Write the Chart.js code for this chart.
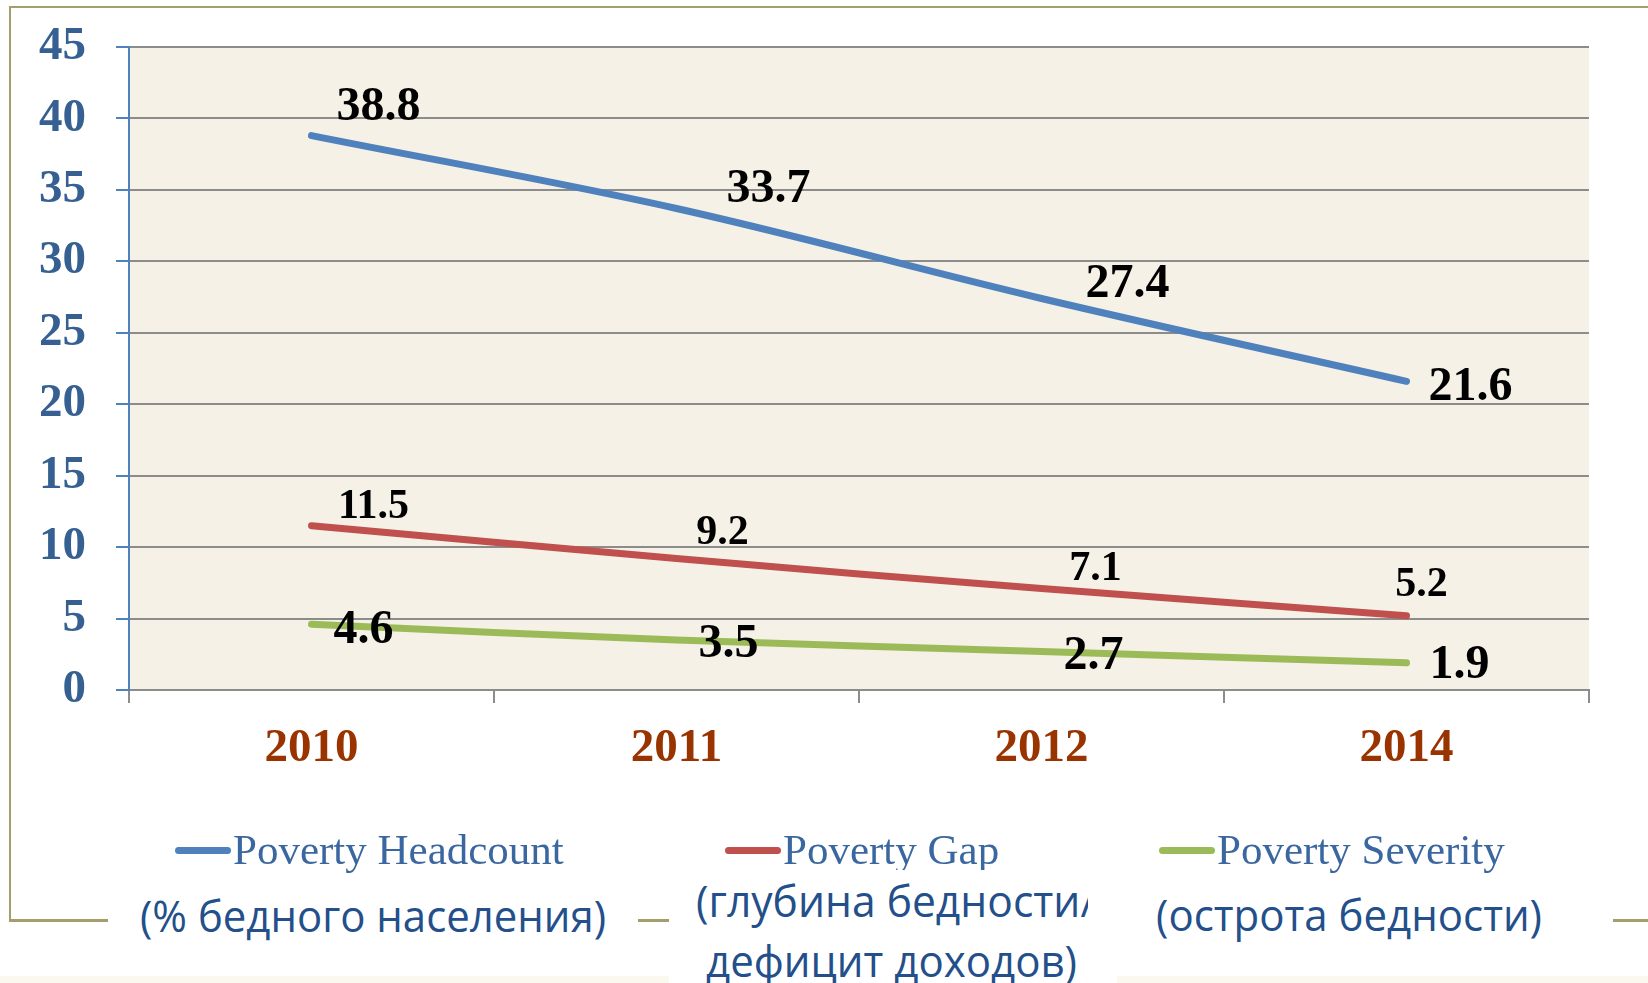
<!DOCTYPE html>
<html><head><meta charset="utf-8">
<script src="https://cdn.jsdelivr.net/npm/chart.js@4.4.1/dist/chart.umd.min.js"></script>
<style>
html,body{margin:0;padding:0;background:#fff;overflow:hidden}
#wrap{position:relative;width:1648px;height:983px;overflow:hidden}
#c{position:absolute;left:0;top:0}
.ln{position:absolute;background:#a59d6b}
.leg{position:absolute;font-family:"Liberation Serif",serif;font-size:43px;line-height:43px;color:#3b67a0;white-space:nowrap}
.mk{position:absolute;height:7px;border-radius:4px}
.note{position:absolute;background:#fff;overflow:hidden}
.nl{position:absolute;font-family:"Open Sans",sans-serif;font-size:43px;line-height:43px;color:#234f8a;white-space:nowrap;transform-origin:0 0}
</style></head>
<body><div id="wrap">
<div class="ln" style="left:9px;top:6px;width:1639px;height:2px"></div>
<div class="ln" style="left:9px;top:6px;width:2px;height:916px"></div>
<div class="ln" style="left:9px;top:919px;width:1639px;height:3px"></div>
<div style="position:absolute;left:0;top:976px;width:1648px;height:7px;background:#fbf9ef"></div>
<canvas id="c" width="1648" height="983"></canvas>
<div id="legend"></div>
<div id="notes"></div>
</div>
<script>
// ---- data ----
const categories = ['2010', '2011', '2012', '2014'];
const seriesNames = ['Poverty Headcount', 'Poverty Gap', 'Poverty Severity'];
const headcount = [38.8, 33.7, 27.4, 21.6];
const povertyGap = [11.5, 9.2, 7.1, 5.2];
const severity = [4.6, 3.5, 2.7, 1.9];
const yMin = 0, yMax = 45, yStep = 5;
const noteHeadcount = ['(% бедного населения)'];
const noteGap = ['(глубина бедности/', 'дефицит доходов)'];
const noteSeverity = ['(острота бедности)'];

// ---- styling / layout ----
const colors = ['#4f81bd', '#c0504d', '#9bbb59'];
const labelFontSizes = [48, 42, 48];
const labelOffsets = [
  [[67, -28], [92, -19], [86, -14], [64, 6]],
  [[62, -19], [46, -25], [54, -19], [15, -31]],
  [[52, 6], [52, 5], [52, 5], [53, 3]]
];
const serif = "'Liberation Serif', 'Times New Roman', serif";

const bgPlugin = {
  id: 'areaBg',
  beforeDraw(chart) {
    const a = chart.chartArea, ctx = chart.ctx;
    ctx.save(); ctx.fillStyle = '#f5f1e6';
    ctx.fillRect(a.left, a.top, a.right - a.left, a.bottom - a.top);
    ctx.restore();
  }
};
const labelPlugin = {
  id: 'valueLabels',
  afterDatasetsDraw(chart) {
    const ctx = chart.ctx;
    chart.data.datasets.forEach((ds, di) => {
      const meta = chart.getDatasetMeta(di);
      meta.data.forEach((pt, i) => {
        const off = labelOffsets[di][i];
        ctx.save();
        ctx.font = 'bold ' + labelFontSizes[di] + 'px ' + serif;
        ctx.fillStyle = '#000';
        ctx.textAlign = 'center';
        ctx.textBaseline = 'middle';
        ctx.fillText(String(ds.data[i]), pt.x + off[0], pt.y + off[1]);
        ctx.restore();
      });
    });
  }
};

const seriesValues = [headcount, povertyGap, severity];
const chart = new Chart(document.getElementById('c'), {
  type: 'line',
  data: {
    labels: categories,
    datasets: seriesNames.map((n, i) => ({
      label: n, data: seriesValues[i], borderColor: colors[i], backgroundColor: colors[i],
      borderWidth: 7, tension: 0.35, pointRadius: 0, borderCapStyle: 'round', borderJoinStyle: 'round', fill: false
    }))
  },
  options: {
    responsive: false, animation: false, devicePixelRatio: 1,
    layout: { padding: { left: 39, right: 59, top: 47, bottom: 209 } },
    plugins: { legend: { display: false }, tooltip: { enabled: false } },
    scales: {
      x: {
        offset: true,
        grid: { display: true, drawOnChartArea: false, drawTicks: true, tickLength: 13, tickColor: '#8c8c8c', lineWidth: 2, offset: true },
        border: { display: true, color: '#8c8c8c', width: 2 },
        ticks: { color: '#993300', font: { family: serif, size: 47, weight: 'bold' }, padding: 18, maxRotation: 0, autoSkip: false },
        afterFit(s) { s.height = 84; s.paddingLeft = 0; s.paddingRight = 0; }
      },
      y: {
        min: yMin, max: yMax,
        ticks: { stepSize: yStep, color: '#376092', font: { family: serif, size: 47, weight: 'bold' }, padding: 30 },
        grid: { color: '#8c8c8c', lineWidth: 2, tickLength: 13, tickColor: '#4f81bd' },
        border: { display: true, color: '#4f81bd', width: 2 },
        afterFit(s) { s.width = 90; s.paddingTop = 0; s.paddingBottom = 0; }
      }
    }
  },
  plugins: [bgPlugin, labelPlugin]
});

// ---- HTML legend built from the chart's datasets ----
const legendLeft = [175, 725, 1159];
const legendEl = document.getElementById('legend');
chart.data.datasets.forEach((ds, i) => {
  const mk = document.createElement('div');
  mk.className = 'mk';
  mk.style.left = legendLeft[i] + 'px'; mk.style.top = '847px'; mk.style.width = '56px';
  mk.style.background = ds.borderColor;
  const tx = document.createElement('div');
  tx.className = 'leg';
  tx.textContent = ds.label;
  tx.style.left = (legendLeft[i] + 58) + 'px'; tx.style.top = '828px';
  legendEl.appendChild(mk); legendEl.appendChild(tx);
});

// ---- note boxes ----
const noteBoxes = [
  { x: 108, y: 893, w: 530, h: 60, texts: noteHeadcount, lines: [{ x: 32, cy: 28, w: 466 }] },
  { x: 669, y: 870, w: 448, h: 113, texts: noteGap, lines: [{ x: 27, cy: 36, w: 400, clip: 419 }, { x: 37, cy: 96, w: 371 }] },
  { x: 1117, y: 893, w: 496, h: 60, texts: noteSeverity, lines: [{ x: 39, cy: 27, w: 386 }] }
];
const notesEl = document.getElementById('notes');
const lineEls = [];
noteBoxes.forEach(b => {
  const box = document.createElement('div');
  box.className = 'note';
  Object.assign(box.style, { left: b.x + 'px', top: b.y + 'px', width: b.w + 'px', height: b.h + 'px' });
  b.texts.forEach((t, j) => {
    const L = b.lines[j];
    const holder = document.createElement('div');
    Object.assign(holder.style, { position: 'absolute', left: '0px', top: '0px', width: (L.clip || b.w) + 'px', height: b.h + 'px', overflow: 'hidden' });
    const s = document.createElement('span');
    s.className = 'nl';
    s.textContent = t;
    s.style.left = L.x + 'px';
    s.style.top = (L.cy - 0.62 * 43) + 'px';
    holder.appendChild(s); box.appendChild(holder);
    lineEls.push([s, L.w]);
  });
  notesEl.appendChild(box);
});
function fitLines() {
  lineEls.forEach(([s, w]) => {
    s.style.transform = 'none';
    const nat = s.getBoundingClientRect().width;
    if (nat > 0) s.style.transform = 'scaleX(' + (w / nat) + ')';
  });
}
fitLines();
if (document.fonts && document.fonts.ready) document.fonts.ready.then(fitLines);
</script>
</body></html>
